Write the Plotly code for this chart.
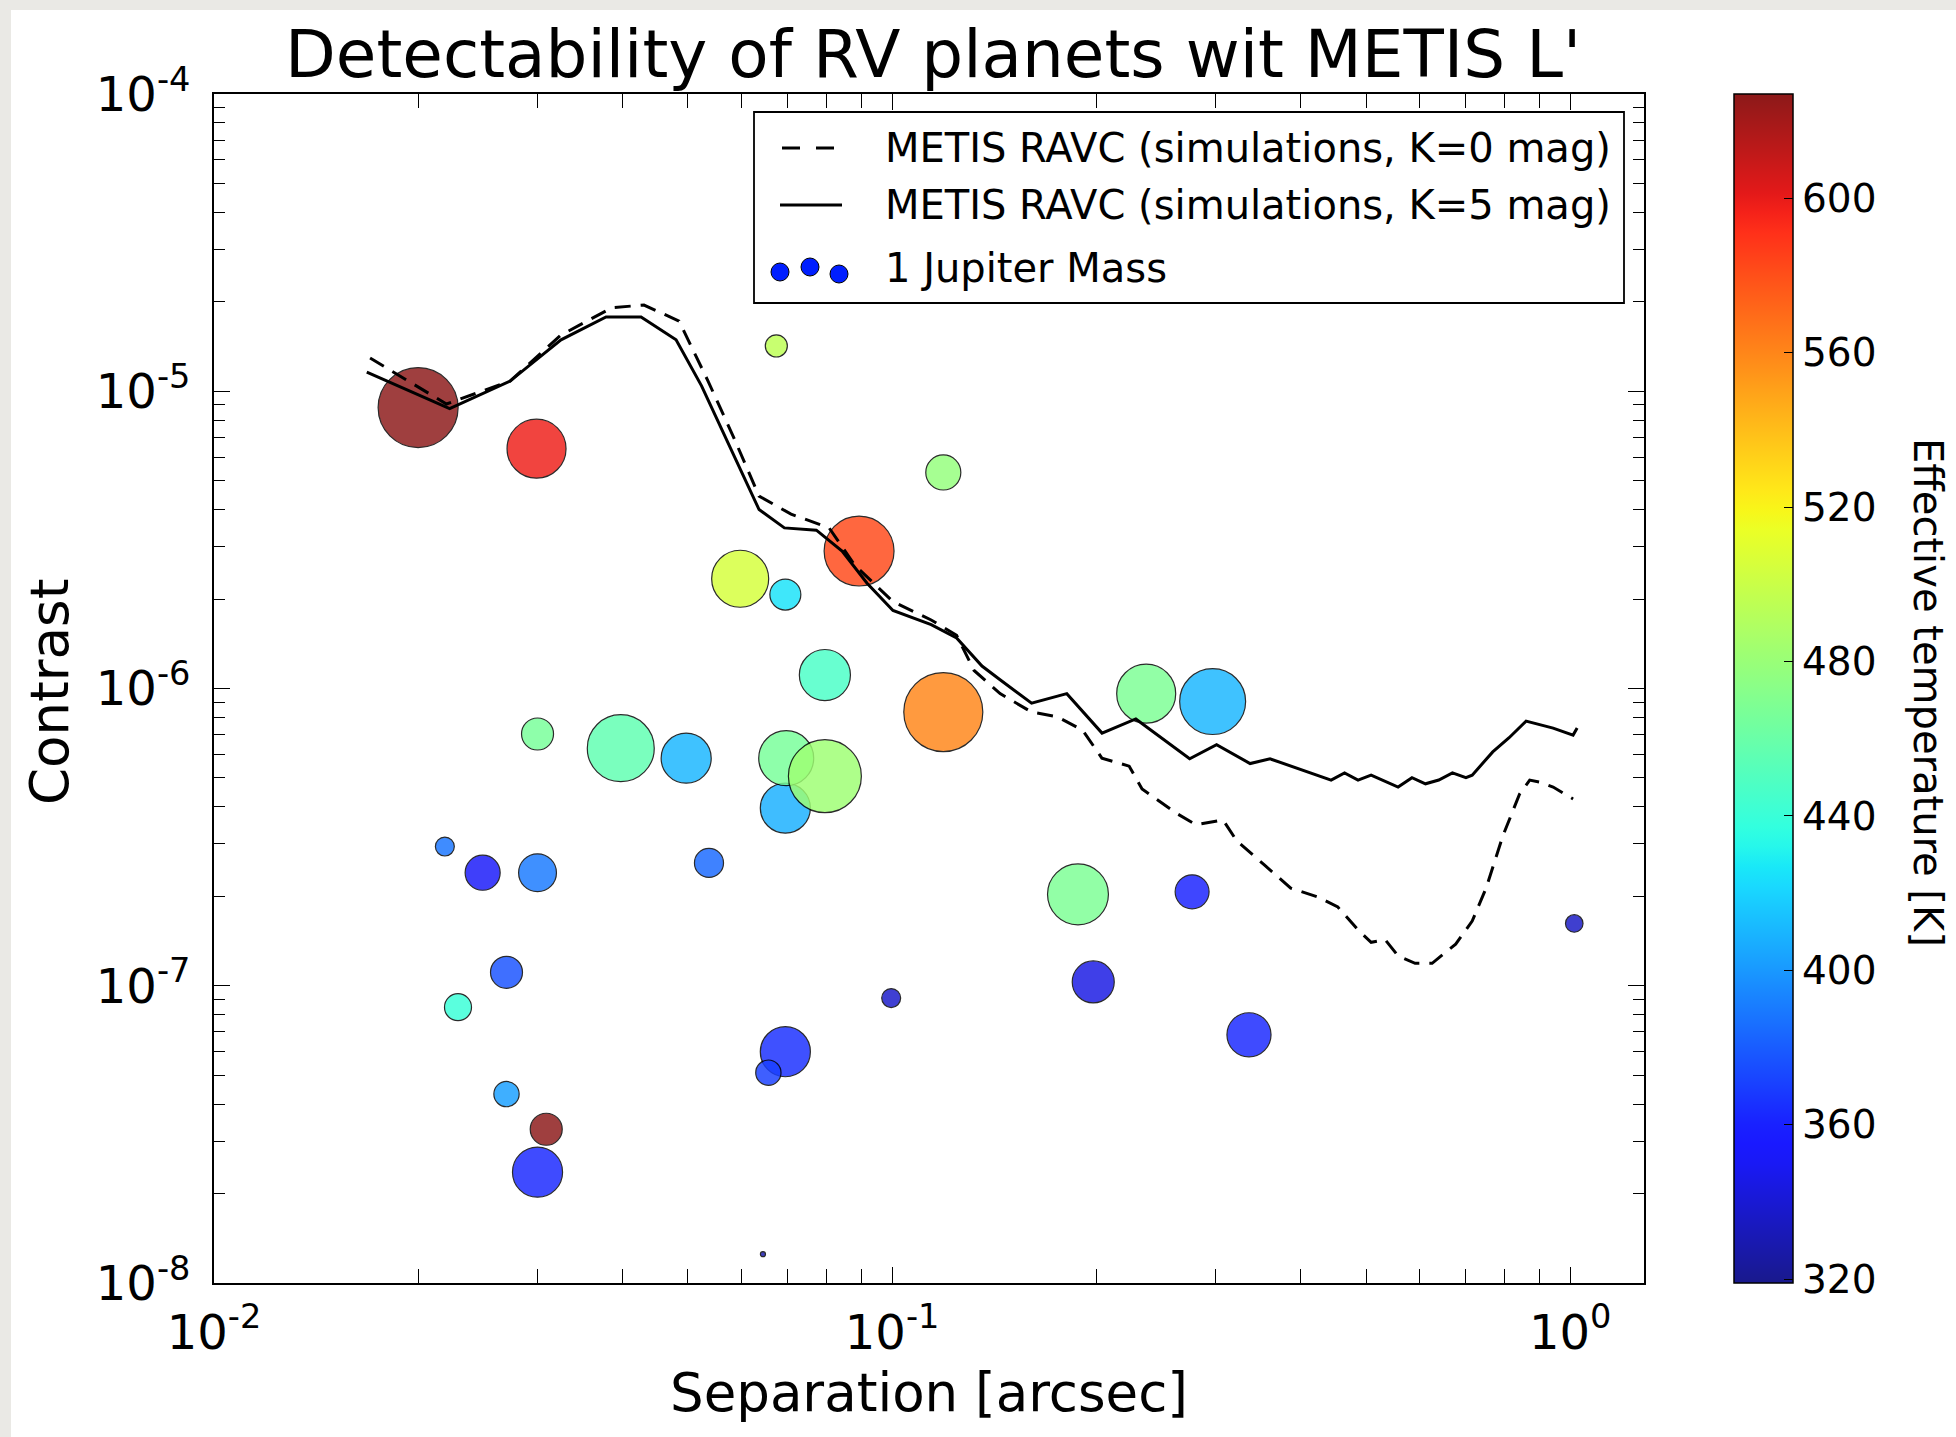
import numpy as np
import plotly.graph_objects as go

# ---------------- data ----------------
# Contrast curve, K=5 mag (solid)
sep_k5 = [0.01680, 0.02226, 0.02733, 0.03249, 0.03786, 0.04264, 0.04802, 0.05236,
          0.05836, 0.06366, 0.06937, 0.07733, 0.08438, 0.09186, 0.1003, 0.1142,
          0.1245, 0.1357, 0.1443, 0.1606, 0.1810, 0.2040, 0.2288, 0.2747, 0.3010,
          0.3373, 0.3609, 0.4052, 0.4441, 0.4648, 0.4866, 0.5087, 0.5330, 0.5575,
          0.5844, 0.6118, 0.6401, 0.6705, 0.7019, 0.7170, 0.7688, 0.8128, 0.8610,
          0.9438, 1.010, 1.024]
con_k5 = [1.160e-5, 8.74e-6, 1.082e-5, 1.489e-5, 1.779e-5, 1.779e-5, 1.489e-5, 1.043e-5,
          6.12e-6, 4.00e-6, 3.47e-6, 3.41e-6, 2.90e-6, 2.26e-6, 1.83e-6, 1.64e-6,
          1.48e-6, 1.19e-6, 1.07e-6, 8.93e-7, 9.61e-7, 7.08e-7, 7.90e-7, 5.80e-7, 6.47e-7,
          5.59e-7, 5.80e-7, 5.29e-7, 4.92e-7, 5.20e-7, 4.92e-7, 5.11e-7, 4.89e-7, 4.66e-7,
          5.01e-7, 4.78e-7, 4.92e-7, 5.20e-7, 5.01e-7, 5.11e-7, 6.12e-7, 6.83e-7, 7.77e-7,
          7.36e-7, 6.97e-7, 7.36e-7]

# Contrast curve, K=0 mag (dashed)
sep_k0 = [0.01699, 0.02202, 0.02733, 0.03249, 0.03864, 0.04307, 0.04851, 0.05353,
          0.05828, 0.06366, 0.07096, 0.08075, 0.08808, 0.1003, 0.1142, 0.1245,
          0.1321, 0.1443, 0.1606, 0.1751, 0.1910, 0.2039, 0.2237, 0.2337, 0.2623,
          0.2808, 0.3077, 0.3224, 0.3533, 0.3872, 0.4242, 0.4543, 0.4867, 0.5087,
          0.5334, 0.5575, 0.5907, 0.6258, 0.6779, 0.7170, 0.7517, 0.7956, 0.8420,
          0.8717, 0.9033, 0.9438, 1.010]
con_k0 = [1.293e-5, 9.06e-6, 1.082e-5, 1.546e-5, 1.911e-5, 1.950e-5, 1.722e-5, 1.082e-5,
          7.07e-6, 4.44e-6, 3.86e-6, 3.47e-6, 2.60e-6, 1.96e-6, 1.70e-6, 1.51e-6,
          1.15e-6, 9.61e-7, 8.33e-7, 8.04e-7, 7.24e-7, 5.83e-7, 5.48e-7, 4.59e-7, 3.81e-7,
          3.48e-7, 3.61e-7, 3.07e-7, 2.56e-7, 2.13e-7, 1.99e-7, 1.84e-7, 1.54e-7, 1.40e-7,
          1.43e-7, 1.26e-7, 1.19e-7, 1.19e-7, 1.38e-7, 1.65e-7, 2.13e-7, 3.19e-7, 4.41e-7,
          4.92e-7, 4.84e-7, 4.66e-7, 4.25e-7]

# RV planets
planet_sep = [0.0200, 0.0299, 0.0675, 0.119, 0.0597, 0.0696, 0.0894, 0.0796, 0.119,
              0.237, 0.297, 0.0300, 0.0398, 0.0497, 0.0696, 0.0698, 0.0796, 0.0219,
              0.0249, 0.0300, 0.0537, 0.188, 0.277, 1.014, 0.0270, 0.198, 0.0997,
              0.0229, 0.336, 0.0696, 0.0657, 0.0270, 0.0309, 0.0300, 0.0645]
planet_contrast = [8.81e-6, 6.41e-6, 1.42e-5, 5.33e-6, 2.34e-6, 2.07e-6, 2.90e-6, 1.11e-6, 8.33e-7,
                   9.61e-7, 9.04e-7, 7.03e-7, 6.30e-7, 5.83e-7, 3.96e-7, 5.83e-7, 5.07e-7, 2.94e-7,
                   2.40e-7, 2.40e-7, 2.59e-7, 2.03e-7, 2.07e-7, 1.62e-7, 1.11e-7, 1.03e-7, 9.09e-8,
                   8.47e-8, 6.84e-8, 6.00e-8, 5.10e-8, 4.32e-8, 3.29e-8, 2.36e-8, 1.25e-8]
planet_mass_mj = [25.0, 13.6, 1.9, 4.8, 12.7, 3.75, 19.1, 10.2, 24.4,
                  13.6, 17.0, 4.0, 17.5, 9.8, 9.8, 11.8, 20.8, 1.4,
                  4.8, 5.6, 3.3, 14.5, 4.5, 1.2, 4.0, 6.9, 1.4,
                  2.85, 7.6, 9.8, 2.5, 2.5, 4.0, 9.8, 0.1]
planet_teff = [627, 598, 495, 478, 505, 425, 582, 447, 560,
               468, 410, 466, 456, 410, 408, 466, 482, 388,
               352, 390, 384, 468, 360, 336, 377, 345, 337,
               440, 362, 365, 370, 402, 627, 362, 330]

cbar_ticks = [320, 360, 400, 440, 480, 520, 560, 600]
x_major = [1e-2, 1e-1, 1e0]
x_major_text = ["10<sup>-2</sup>", "10<sup>-1</sup>", "10<sup>0</sup>"]
y_major = [1e-8, 1e-7, 1e-6, 1e-5, 1e-4]
y_major_text = ["10<sup>-8</sup>", "10<sup>-7</sup>", "10<sup>-6</sup>", "10<sup>-5</sup>", "10<sup>-4</sup>"]

# ---------------- style helpers ----------------
W, H = 1956, 1437
L, R, T, B = 214, 1644, 94, 1283
PW, PH = R - L, B - T


def px(xp):
    return (xp - L) / PW


def py(yp):
    return (B - yp) / PH


def jet(t):
    r = np.interp(t, [0, 0.35, 0.66, 0.89, 1], [0, 0, 1, 1, 0.5])
    g = np.interp(t, [0, 0.125, 0.375, 0.64, 0.91, 1], [0, 0, 1, 1, 0, 0])
    b = np.interp(t, [0, 0.11, 0.34, 0.65, 1], [0.5, 1, 1, 0, 0])
    return r, g, b


def blended_jet(alpha, n=61):
    cs = []
    for t in np.linspace(0, 1, n):
        r, g, b = jet(t)
        r = 1 - alpha * (1 - r)
        g = 1 - alpha * (1 - g)
        b = 1 - alpha * (1 - b)
        cs.append([float(t), f"rgb({int(round(r*255))},{int(round(g*255))},{int(round(b*255))})"])
    return cs


FONT = "DejaVu Sans, Verdana, sans-serif"

x_minor = [k * 10.0 ** d for d in (-2, -1) for k in range(2, 10)]
y_minor = [k * 10.0 ** d for d in (-8, -7, -6, -5) for k in range(2, 10)]

sizes = 16 * np.sqrt(np.array(planet_mass_mj))

fig = go.Figure()

fig.add_trace(go.Scatter(
    x=planet_sep, y=planet_contrast, mode="markers", showlegend=False,
    marker=dict(
        size=sizes, sizemode="diameter", color=planet_teff,
        colorscale=blended_jet(0.9), cmin=319, cmax=627, opacity=0.83,
        line=dict(color="black", width=1.2),
        colorbar=dict(
            thickness=59, thicknessmode="pixels", len=1, lenmode="fraction",
            x=px(1734), xanchor="left", xpad=0, y=0.5, yanchor="middle", ypad=0,
            outlinewidth=1.5, outlinecolor="black",
            ticks="inside", ticklen=9, tickwidth=1.2, tickcolor="black",
            tickvals=cbar_ticks, ticktext=[str(v) for v in cbar_ticks],
            tickfont=dict(family=FONT, size=39, color="black"),
        ),
    ),
))

fig.add_trace(go.Scatter(x=sep_k0, y=con_k0, mode="lines", showlegend=False,
                         line=dict(color="black", width=3, dash="16px,10px")))
fig.add_trace(go.Scatter(x=sep_k5, y=con_k5, mode="lines", showlegend=False,
                         line=dict(color="black", width=3)))

axis_common = dict(
    showgrid=False, zeroline=False, showline=True, linecolor="black", linewidth=2,
    mirror="allticks", ticks="inside", tickcolor="black", tickwidth=1.3,
    tickfont=dict(family=FONT, size=48, color="black"),
)

fig.update_xaxes(
    type="log", range=[-2, np.log10(1.285)],
    tickvals=x_major, ticktext=x_major_text, ticklen=16, ticklabelstandoff=6,
    minor=dict(tickvals=x_minor, ticks="inside", ticklen=14, tickwidth=1.3,
               tickcolor="black", showgrid=False),
    **axis_common,
)
fig.update_yaxes(
    type="log", range=[-8, -4],
    tickvals=y_major, ticktext=y_major_text, ticklen=16, ticklabelstandoff=12,
    minor=dict(tickvals=y_minor, ticks="inside", ticklen=11, tickwidth=1.3,
               tickcolor="black", showgrid=False),
    **axis_common,
)

shapes = []
# screenshot frame (light gray strips on top and left)
shapes.append(dict(type="rect", xref="paper", yref="paper", x0=px(0), x1=px(W), y0=py(10), y1=py(0),
                   fillcolor="rgb(234,233,229)", line=dict(width=0), layer="below"))
shapes.append(dict(type="rect", xref="paper", yref="paper", x0=px(0), x1=px(11), y0=py(H), y1=py(0),
                   fillcolor="rgb(234,233,229)", line=dict(width=0), layer="below"))
# legend box
shapes.append(dict(type="rect", xref="paper", yref="paper", x0=px(754), x1=px(1624), y0=py(303), y1=py(112),
                   fillcolor="white", line=dict(color="black", width=1.8), layer="above"))
shapes.append(dict(type="line", xref="paper", yref="paper", x0=px(782), x1=px(834), y0=py(148), y1=py(148),
                   line=dict(color="black", width=3, dash="18px,16px")))
shapes.append(dict(type="line", xref="paper", yref="paper", x0=px(780), x1=px(842), y0=py(205), y1=py(205),
                   line=dict(color="black", width=3)))
for cx, cy in [(780, 272), (810, 267), (839, 274)]:
    r = 9
    shapes.append(dict(type="circle", xref="paper", yref="paper",
                       x0=px(cx - r), x1=px(cx + r), y0=py(cy + r), y1=py(cy - r),
                       fillcolor="rgb(0,30,255)", line=dict(color="black", width=1)))

annotations = [
    dict(text="Detectability of RV planets wit METIS L'", x=px(933), y=py(55), xref="paper", yref="paper",
         showarrow=False, xanchor="center", yanchor="middle", font=dict(family=FONT, size=66, color="black")),
    dict(text="Separation [arcsec]", x=px(929), y=py(1392), xref="paper", yref="paper",
         showarrow=False, xanchor="center", yanchor="middle", font=dict(family=FONT, size=53, color="black")),
    dict(text="Contrast", x=px(50), y=py(692), xref="paper", yref="paper", textangle=-90,
         showarrow=False, xanchor="center", yanchor="middle", font=dict(family=FONT, size=53, color="black")),
    dict(text="Effective temperature [K]", x=px(1928), y=py(692), xref="paper", yref="paper", textangle=90,
         showarrow=False, xanchor="center", yanchor="middle", font=dict(family=FONT, size=40, color="black")),
]
legend_rows = [("METIS RAVC (simulations, K=0 mag)", 148),
               ("METIS RAVC (simulations, K=5 mag)", 205),
               ("1 Jupiter Mass", 268)]
for txt, yy in legend_rows:
    annotations.append(dict(text=txt, x=px(883), y=py(yy), xref="paper", yref="paper", showarrow=False,
                            xanchor="left", yanchor="middle", font=dict(family=FONT, size=40, color="black")))

fig.update_layout(
    width=W, height=H, autosize=False,
    margin=dict(l=L, r=W - R, t=T, b=H - B, pad=0),
    paper_bgcolor="white", plot_bgcolor="white",
    showlegend=False, shapes=shapes, annotations=annotations,
    font=dict(family=FONT, color="black"),
)

fig.write_html("out.html")
